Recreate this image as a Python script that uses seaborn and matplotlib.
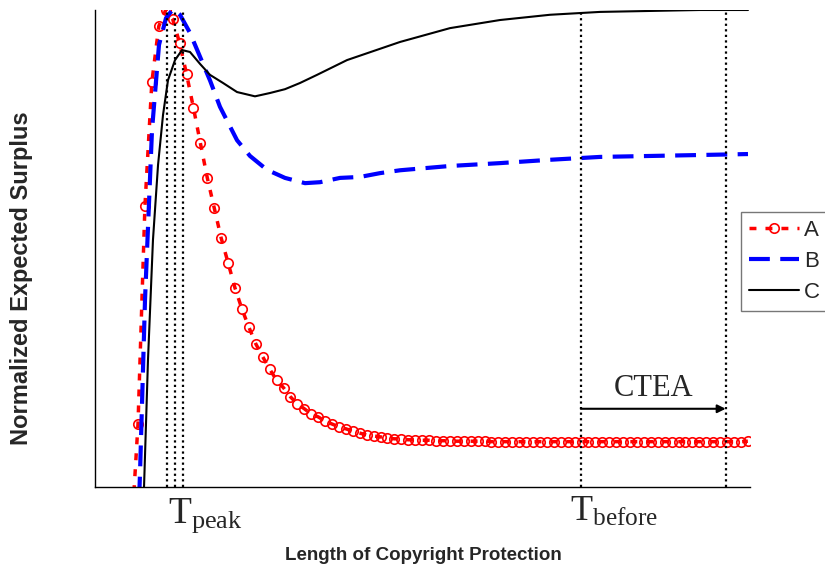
import matplotlib
matplotlib.use("Agg")
import matplotlib.pyplot as plt
import seaborn as sns
import numpy as np

# ---- data (normalized surplus) ----
a_x = list(range(1, 91))
a_y = [-0.111, 0.132, 0.589, 0.849, 0.966, 1.000, 0.981, 0.931, 0.866, 0.795,
       0.721, 0.648, 0.585, 0.522, 0.470, 0.417, 0.373, 0.335, 0.300, 0.273,
       0.247, 0.224, 0.208, 0.189, 0.174, 0.164, 0.153, 0.147, 0.138, 0.132,
       0.126, 0.122, 0.117, 0.113, 0.109, 0.107, 0.105, 0.103, 0.101, 0.101,
       0.099, 0.099, 0.098, 0.098, 0.097, 0.097, 0.097, 0.096, 0.096, 0.096,
       0.096, 0.096, 0.095, 0.095, 0.095, 0.095, 0.095, 0.095, 0.095, 0.095,
       0.095, 0.095, 0.095, 0.095, 0.095, 0.095, 0.095, 0.095, 0.095, 0.095,
       0.095, 0.095, 0.095, 0.095, 0.095, 0.095, 0.095, 0.095, 0.095, 0.095,
       0.095, 0.095, 0.095, 0.095, 0.095, 0.095, 0.095, 0.095, 0.095, 0.096]

b_x = [1.86, 2.29, 3.01, 4.02, 5.03, 6.04, 7.05, 8.06, 9.50, 10.95, 12.40,
       13.83, 16.29, 18.16, 20.61, 23.21, 26.10, 28.26, 31.15, 34.03, 36.92,
       39.81, 47.02, 54.24, 61.45, 68.67, 75.88, 83.10, 90.02]
b_y = [-0.153, 0.029, 0.392, 0.748, 0.927, 0.983, 1.002, 0.990, 0.952, 0.902,
       0.852, 0.797, 0.727, 0.694, 0.665, 0.648, 0.637, 0.639, 0.648, 0.650,
       0.658, 0.664, 0.673, 0.679, 0.686, 0.692, 0.694, 0.696, 0.698]

c_x = [2.58, 2.87, 3.44, 4.16, 4.89, 5.61, 6.33, 7.34, 8.35, 9.50, 10.95,
       12.39, 14.27, 16.29, 18.88, 21.05, 23.21, 25.38, 27.83, 32.16, 39.81,
       47.02, 54.24, 61.45, 68.67, 75.88, 83.10, 90.02]
c_y = [-0.111, 0.0, 0.266, 0.518, 0.675, 0.780, 0.853, 0.895, 0.916, 0.912,
       0.887, 0.864, 0.847, 0.828, 0.819, 0.826, 0.834, 0.847, 0.864, 0.895,
       0.933, 0.962, 0.979, 0.990, 0.996, 0.998, 1.000, 1.000]

t_peak_lines = [6.14, 7.34, 8.45]
t_before = 65.9
t_ctea_end = 86.8

sns.set_style("white")
plt.rcParams['font.family'] = ['Liberation Sans', 'DejaVu Sans']

fig = plt.figure(figsize=(8.25, 5.73), dpi=100)
ax = fig.add_axes([95/825, 1-487/573, (750-95)/825, (487-10)/573])

sns.lineplot(x=a_x, y=a_y, ax=ax, color='red', linewidth=2.5,
             linestyle=(0, (2, 2.6)), marker='o', markersize=6.8,
             markerfacecolor='none', markeredgecolor='red',
             markeredgewidth=1.2, sort=False, estimator=None, label='A')
sns.lineplot(x=b_x, y=b_y, ax=ax, color='blue', linewidth=3,
             linestyle=(0, (5, 2.5)), sort=False, estimator=None, label='B')
sns.lineplot(x=c_x, y=c_y, ax=ax, color='black', linewidth=1.5,
             sort=False, estimator=None, label='C')

for xv in t_peak_lines + [t_before, t_ctea_end]:
    ax.axvline(xv, color='black', linestyle=(0, (1, 1.5)), linewidth=1.6)

ax.annotate('', xy=(t_ctea_end, 0.164), xytext=(t_before, 0.164),
            arrowprops=dict(arrowstyle='-|>', color='black', lw=1.5,
                            mutation_scale=12, shrinkA=0, shrinkB=0))
ax.text((t_before + t_ctea_end)/2, 0.19, 'CTEA', family='Liberation Serif',
        fontsize=22, ha='center', va='baseline')

ax.set_xlim(-4.205, 90.31)
ax.set_ylim(0, 1)
ax.set_xticks([])
ax.set_yticks([])
sns.despine(ax=ax)
for s in ['left', 'bottom']:
    ax.spines[s].set_color('black')
    ax.spines[s].set_linewidth(1.0)

fig.text(168/825, 1-523/573, r'$\mathregular{T_{peak}}$', family='Liberation Serif',
         fontsize=27, ha='left', va='baseline')
fig.text(570/825, 1-521/573, r'$\mathregular{T_{before}}$', family='Liberation Serif',
         fontsize=26, ha='left', va='baseline')

fig.text(423/825, 1-555/573, 'Length of Copyright Protection', fontsize=13.5,
         fontweight='bold', ha='center', va='center')
fig.text(22/825, 1-278/573, 'Normalized Expected Surplus', fontsize=17,
         fontweight='bold', rotation=90, ha='center', va='center')

handles = ax.get_lines()[:3]
leg = fig.legend(handles, ['A', 'B', 'C'], loc='upper left',
                 bbox_to_anchor=(741/825, 1-212/573), fontsize=16,
                 frameon=True, fancybox=False, handlelength=2.25,
                 handletextpad=0.25, labelspacing=0.45, borderpad=0.35,
                 borderaxespad=0, numpoints=1)
leg.get_frame().set_edgecolor('#555555')
leg.get_frame().set_linewidth(1.0)
if ax.get_legend() is not None:
    ax.get_legend().remove()

fig.savefig('out.png', dpi=100)
